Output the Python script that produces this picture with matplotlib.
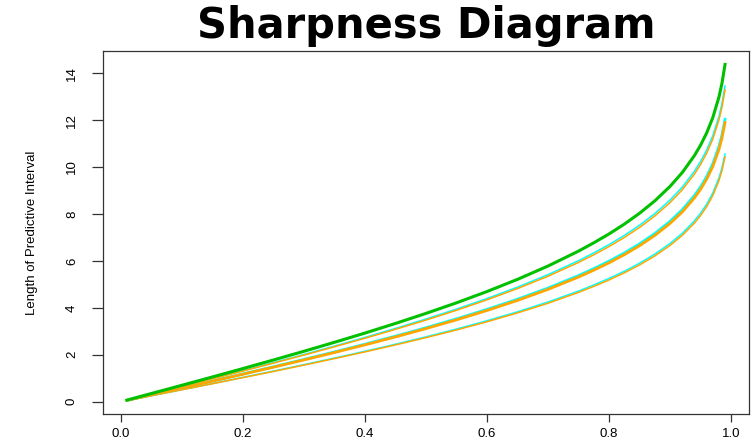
import matplotlib.pyplot as plt

# nominal coverage levels
coverage = [0.01, 0.05, 0.10, 0.15, 0.20, 0.25, 0.30, 0.35, 0.40, 0.45, 0.50,
            0.55, 0.60, 0.65, 0.70, 0.75, 0.775, 0.80, 0.825, 0.85, 0.875, 0.90,
            0.92, 0.94, 0.95, 0.96, 0.97, 0.98, 0.985, 0.99]

# interval lengths
green_len = [0.070, 0.350, 0.701, 1.055, 1.413, 1.778, 2.150, 2.532, 2.926, 3.336,
             3.764, 4.215, 4.696, 5.215, 5.783, 6.419, 6.773, 7.151, 7.568, 8.032,
             8.560, 9.179, 9.769, 10.495, 10.937, 11.460, 12.109, 12.981, 13.573, 14.373]
cyan_a = [0.065, 0.328, 0.657, 0.988, 1.324, 1.665, 2.013, 2.371, 2.740, 3.124,
          3.524, 3.947, 4.397, 4.883, 5.415, 6.010, 6.342, 6.696, 7.087, 7.521,
          8.016, 8.595, 9.147, 9.827, 10.241, 10.731, 11.339, 12.155, 12.709, 13.459]
orange_a = [0.065, 0.324, 0.649, 0.976, 1.307, 1.644, 1.988, 2.342, 2.706, 3.085,
            3.480, 3.898, 4.343, 4.823, 5.348, 5.936, 6.263, 6.613, 6.999, 7.428,
            7.916, 8.488, 9.034, 9.705, 10.114, 10.597, 11.198, 12.004, 12.551, 13.291]
cyan_b = [0.058, 0.293, 0.588, 0.884, 1.184, 1.489, 1.801, 2.121, 2.451, 2.794,
          3.153, 3.531, 3.934, 4.368, 4.844, 5.377, 5.673, 5.990, 6.339, 6.728,
          7.170, 7.688, 8.183, 8.791, 9.161, 9.599, 10.143, 10.873, 11.369, 12.039]
orange_b = [0.058, 0.290, 0.581, 0.874, 1.170, 1.472, 1.780, 2.097, 2.423, 2.762,
            3.116, 3.490, 3.888, 4.318, 4.788, 5.314, 5.608, 5.921, 6.266, 6.650,
            7.088, 7.599, 8.088, 8.689, 9.055, 9.488, 10.026, 10.748, 11.238, 11.900]
cyan_c = [0.051, 0.257, 0.515, 0.775, 1.039, 1.306, 1.580, 1.861, 2.150, 2.451,
          2.765, 3.097, 3.451, 3.832, 4.249, 4.716, 4.977, 5.255, 5.561, 5.902,
          6.290, 6.744, 7.178, 7.711, 8.036, 8.420, 8.897, 9.538, 9.973, 10.561]
orange_c = [0.051, 0.254, 0.509, 0.766, 1.026, 1.290, 1.560, 1.838, 2.124, 2.421,
            2.732, 3.059, 3.408, 3.785, 4.197, 4.659, 4.916, 5.190, 5.493, 5.830,
            6.213, 6.662, 7.090, 7.617, 7.938, 8.317, 8.789, 9.422, 9.851, 10.432]

xticks = [0.0, 0.2, 0.4, 0.6, 0.8, 1.0]
yticks = [0, 2, 4, 6, 8, 10, 12, 14]

plt.rcParams['font.family'] = ['Liberation Sans Narrow', 'Liberation Sans', 'DejaVu Sans']

fig = plt.figure(figsize=(7.55, 4.43), dpi=100)
ax = fig.add_axes([0.1364, 0.0655, 0.8556, 0.8194])

cyan = '#00FFFF'
orange = '#FFA500'
ax.plot(coverage, cyan_c, color=cyan, lw=1.1)
ax.plot(coverage, orange_c, color=orange, lw=1.1)
ax.plot(coverage, cyan_b, color=cyan, lw=2.0)
ax.plot(coverage, orange_b, color=orange, lw=2.0)
ax.plot(coverage, cyan_a, color=cyan, lw=1.1)
ax.plot(coverage, orange_a, color=orange, lw=1.1)
ax.plot(coverage, green_len, color='#00C000', lw=2.2)

xmin, xmax = min(coverage), max(coverage)
ymin, ymax = min(orange_c), max(green_len)
ax.set_xlim(xmin - 0.04 * (xmax - xmin), xmax + 0.04 * (xmax - xmin))
ax.set_ylim(ymin - 0.04 * (ymax - ymin), ymax + 0.04 * (ymax - ymin))

ax.set_xticks(xticks)
ax.set_xticklabels(['0.0', '0.2', '0.4', '0.6', '0.8', '1.0'], fontsize=9.5,
                   family=['Liberation Sans', 'DejaVu Sans'])
ax.set_yticks(yticks)
ax.set_yticklabels([str(v) for v in yticks], fontsize=9.5, rotation=90, va='center')
ax.tick_params(axis='x', direction='out', length=6, width=0.9, color='#333333', pad=4)
ax.tick_params(axis='y', direction='out', length=8, width=0.9, color='#333333', pad=10)

for sp in ax.spines.values():
    sp.set_linewidth(0.9)
    sp.set_color('#333333')

ax.set_ylabel('Length of Predictive Interval', fontsize=9.5, labelpad=20)
fig.text(0.565, 0.915, 'Sharpness Diagram', ha='center', va='baseline',
         fontsize=30, fontweight='bold', family=['DejaVu Sans'])

fig.savefig('out.png', dpi=100)
